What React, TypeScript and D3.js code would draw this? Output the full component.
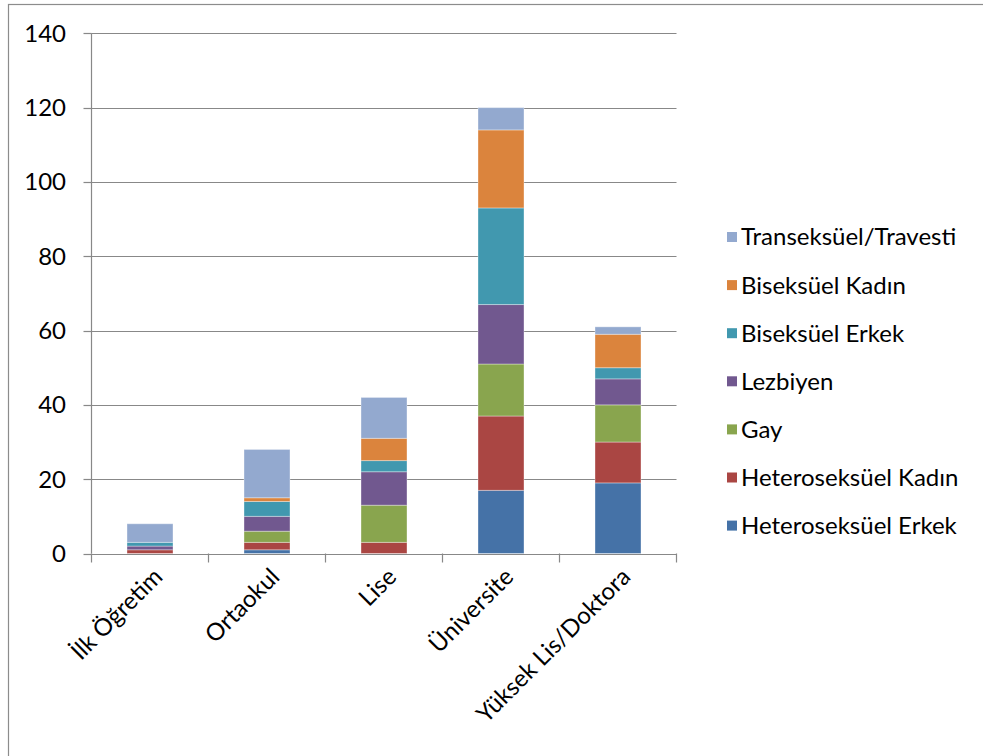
import React, { useEffect, useRef } from "react";
import * as d3 from "d3";

const categories = ["İlk Öğretim", "Ortaokul", "Lise", "Üniversite", "Yüksek Lis/Doktora"];
const seriesNames = [
  "Heteroseksüel Erkek",
  "Heteroseksüel Kadın",
  "Gay",
  "Lezbiyen",
  "Biseksüel Erkek",
  "Biseksüel Kadın",
  "Transeksüel/Travesti",
];
const heteroErkek = [0, 1, 0, 17, 19];
const heteroKadin = [1, 2, 3, 20, 11];
const gay = [0, 3, 10, 14, 10];
const lezbiyen = [1, 4, 9, 16, 7];
const bisekErkek = [1, 4, 3, 26, 3];
const bisekKadin = [0, 1, 6, 21, 9];
const trans = [5, 13, 11, 6, 2];
const seriesValues = [heteroErkek, heteroKadin, gay, lezbiyen, bisekErkek, bisekKadin, trans];
const colors = ["#4572A7", "#AA4643", "#89A54E", "#71588F", "#4198AF", "#DB843D", "#93A9CF"];
const yTicks = [0, 20, 40, 60, 80, 100, 120, 140];

const W = 983;
const H = 756;
const FONT = "Lato, 'Open Sans', sans-serif";
const FS = 24;

export default function App() {
  const ref = useRef<SVGSVGElement>(null);
  useEffect(() => {
    const svg = d3.select(ref.current);
    svg.selectAll("*").remove();

    const left = 91.5;
    const right = 676.5;
    const top = 33.3;
    const bottom = 553.5;

    const x = d3.scaleBand<string>().domain(categories).range([left, right]).padding(0);
    const y = d3.scaleLinear().domain([0, 140]).range([bottom, top]);

    // frame
    svg.append("rect")
      .attr("x", 8.5).attr("y", 4.5).attr("width", 1100).attr("height", 900)
      .attr("fill", "white").attr("stroke", "#8c8c8c").attr("stroke-width", 1.2);

    const grid = "#888888";
    // gridlines
    svg.append("g").selectAll("line").data(yTicks.filter((t) => t > 0)).join("line")
      .attr("x1", left).attr("x2", right)
      .attr("y1", (d) => Math.round(y(d)) + 0.5).attr("y2", (d) => Math.round(y(d)) + 0.5)
      .attr("stroke", grid).attr("stroke-width", 1.2);

    // bars
    const table = categories.map((c, i) => {
      const row: any = { cat: c };
      seriesNames.forEach((s, j) => (row[s] = seriesValues[j][i]));
      return row;
    });
    const stack = d3.stack<any>().keys(seriesNames)(table);
    const bw = x.bandwidth() * 0.393;
    stack.forEach((layer, j) => {
      svg.append("g").selectAll("rect").data(layer.filter((d) => d[1] - d[0] > 0)).join("rect")
        .attr("x", (d) => (x(d.data.cat) as number) + x.bandwidth() / 2 - bw / 2)
        .attr("width", bw)
        .attr("y", (d) => y(d[1]))
        .attr("height", (d) => y(d[0]) - y(d[1]))
        .attr("fill", colors[j])
        .attr("stroke", "rgba(255,255,255,0.35)")
        .attr("stroke-width", 1);
    });

    // y axis
    const yAxis = svg.append("g");
    yAxis.append("line").attr("x1", left).attr("x2", left).attr("y1", top).attr("y2", bottom)
      .attr("stroke", grid).attr("stroke-width", 1.2);
    yAxis.selectAll("line.t").data(yTicks).join("line").attr("class", "t")
      .attr("x1", left - 8).attr("x2", left)
      .attr("y1", (d) => Math.round(y(d)) + 0.5).attr("y2", (d) => Math.round(y(d)) + 0.5)
      .attr("stroke", grid).attr("stroke-width", 1.2);
    yAxis.selectAll("text").data(yTicks).join("text")
      .attr("x", 66).attr("y", (d) => y(d)).attr("dy", "0.35em")
      .attr("text-anchor", "end").attr("font-family", FONT).attr("font-size", FS)
      .attr("fill", "#000").text((d) => d3.format("d")(d));

    // x axis
    const xAxis = svg.append("g");
    xAxis.append("line").attr("x1", left).attr("x2", right)
      .attr("y1", Math.round(bottom) + 0.5).attr("y2", Math.round(bottom) + 0.5)
      .attr("stroke", grid).attr("stroke-width", 1.2);
    const bounds = categories.map((c) => x(c) as number).concat([right]);
    xAxis.selectAll("line.t").data(bounds).join("line").attr("class", "t")
      .attr("x1", (d) => d).attr("x2", (d) => d)
      .attr("y1", bottom).attr("y2", bottom + 9)
      .attr("stroke", grid).attr("stroke-width", 1.2);
    xAxis.selectAll("text").data(categories).join("text")
      .attr("transform", (d) => {
        const cx = (x(d) as number) + x.bandwidth() / 2 + 2;
        return `translate(${cx},${bottom + 13}) rotate(-45)`;
      })
      .attr("text-anchor", "end").attr("dy", "0.7em")
      .attr("font-family", FONT).attr("font-size", FS).attr("fill", "#000")
      .text((d) => d);

    // legend
    const legendNames = seriesNames.slice().reverse();
    const legendColors = colors.slice().reverse();
    const lg = svg.append("g");
    legendNames.forEach((n, i) => {
      const cy = 237 + i * 48.1;
      lg.append("rect").attr("x", 727).attr("y", cy - 5).attr("width", 10).attr("height", 10)
        .attr("fill", legendColors[i]);
      lg.append("text").attr("x", 741).attr("y", cy).attr("dy", "0.35em")
        .attr("font-family", FONT).attr("font-size", FS).attr("fill", "#000").text(n);
    });
  }, []);

  return (
    <svg ref={ref} width={W} height={H}
      style={{ position: "absolute", left: 0, top: 0, background: "white" }} />
  );
}
